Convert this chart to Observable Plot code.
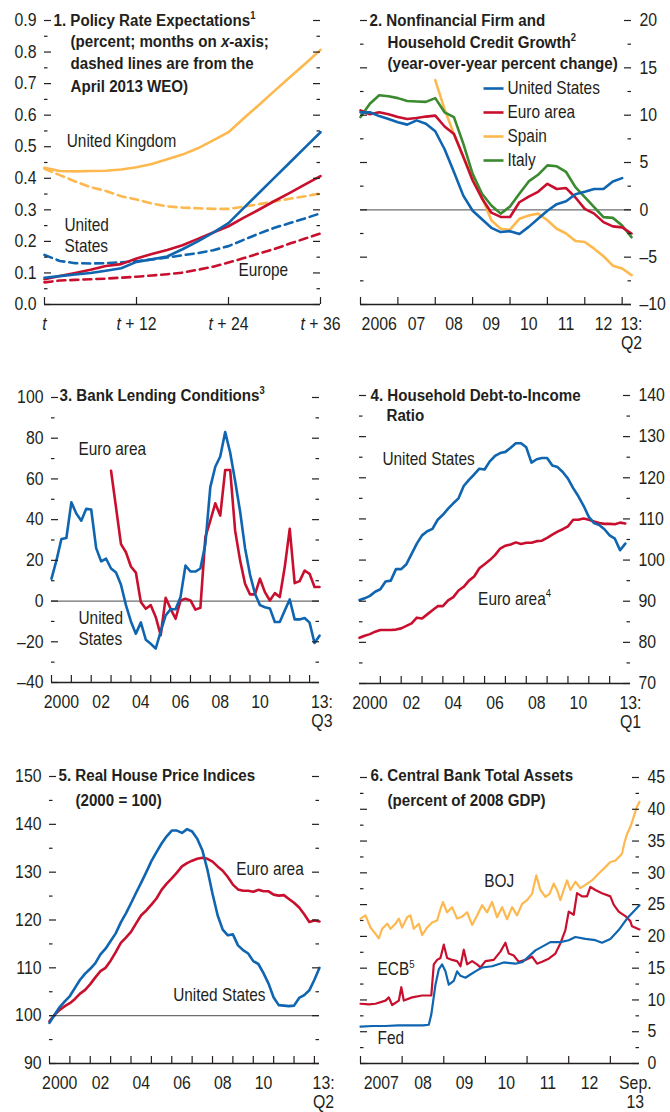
<!DOCTYPE html>
<html>
<head>
<meta charset="utf-8">
<script src="https://cdn.jsdelivr.net/npm/d3@7"></script>
<script src="https://cdn.jsdelivr.net/npm/@observablehq/plot@0.6"></script>
<style>
  html, body { margin: 0; padding: 0; background: #fff; }
  #page { position: relative; width: 670px; height: 1112px; overflow: hidden; }
  .panel { position: absolute; }
  .panel svg { overflow: visible; display: block; }
</style>
</head>
<body>
<div id="page"></div>
<script>
// ---------------- DATA ----------------
// Panel 1: Policy rate expectations (months ahead)
const p1Months = [0, 2, 4, 6, 8, 10, 12, 14, 16, 18, 20, 22, 24, 26, 28, 30, 32, 34, 36];
const p1UK     = [0.433, 0.423, 0.422, 0.423, 0.424, 0.428, 0.435, 0.445, 0.46, 0.475, 0.495, 0.52, 0.546, 0.59, 0.633, 0.677, 0.72, 0.763, 0.807];
const p1UKWEO  = [0.43, 0.41, 0.39, 0.372, 0.36, 0.343, 0.333, 0.32, 0.311, 0.307, 0.305, 0.303, 0.303, 0.31, 0.318, 0.327, 0.335, 0.343, 0.352];
const p1US     = [0.085, 0.09, 0.095, 0.1, 0.107, 0.115, 0.135, 0.143, 0.152, 0.175, 0.2, 0.228, 0.258, 0.306, 0.354, 0.402, 0.45, 0.498, 0.546];
const p1USWEO  = [0.157, 0.138, 0.131, 0.13, 0.131, 0.134, 0.137, 0.143, 0.149, 0.156, 0.163, 0.172, 0.185, 0.205, 0.225, 0.243, 0.258, 0.273, 0.289];
const p1EU     = [0.08, 0.09, 0.1, 0.11, 0.122, 0.128, 0.146, 0.16, 0.173, 0.188, 0.208, 0.228, 0.248, 0.275, 0.301, 0.328, 0.354, 0.381, 0.407];
const p1EUWEO  = [0.07, 0.076, 0.078, 0.08, 0.082, 0.085, 0.088, 0.092, 0.096, 0.101, 0.11, 0.12, 0.133, 0.147, 0.162, 0.176, 0.193, 0.209, 0.225];
const p1YTicks = [0, 0.1, 0.2, 0.3, 0.4, 0.5, 0.6, 0.7, 0.8, 0.9];
const p1YMinor = [0.05, 0.15, 0.25, 0.35, 0.45, 0.55, 0.65, 0.75, 0.85];
const p1XTicks = [0, 12, 24, 36];
const p1XLabels = ["*t*", "*t* + 12", "*t* + 24", "*t* + 36"];

// Panel 2: credit growth, quarterly from 2006:Q1
const p2Start = 2006;
const p2US    = [10.3, 10.3, 9.9, 9.6, 9.25, 9.0, 9.45, 9.1, 8.3, 6.4, 4.0, 1.5, -0.1, -1.0, -1.9, -2.35, -2.25, -2.55, -1.8, -0.95, -0.1, 0.6, 0.9, 1.65, 1.9, 2.2, 2.2, 3.0, 3.35];
const p2Euro  = [10.5, 10.1, 10.3, 10.1, 9.8, 9.6, 9.7, 9.85, 9.95, 8.8, 8.0, 5.6, 3.1, 1.2, -0.3, -0.75, -0.75, 0.8, 1.4, 1.9, 2.75, 2.2, 2.3, 1.3, 0.1, -0.4, -1.3, -1.75, -1.85, -2.5];
const p2SpainStart = 2008;
const p2Spain = [13.7, 10.6, 8.0, 5.6, 3.45, 1.3, -1.1, -2.0, -2.1, -0.95, -0.6, -0.4, -1.1, -2.0, -2.5, -3.3, -3.4, -4.1, -4.9, -5.9, -6.2, -6.9];
const p2Italy = [9.8, 11.2, 12.1, 12.0, 11.8, 11.5, 11.45, 11.4, 11.8, 10.3, 9.8, 7.0, 3.8, 1.7, 0.46, -0.4, 0.35, 1.7, 3.0, 3.7, 4.7, 4.6, 4.0, 2.4, 1.34, 0.28, -0.77, -0.85, -1.65, -2.9];
const p2Names = ["United States", "Euro area", "Spain", "Italy"];
const p2YTicks = [-10, -5, 0, 5, 10, 15, 20];
const p2YMinor = [-7.5, -2.5, 2.5, 7.5, 12.5, 17.5];
const p2XTicks = [2006, 2007, 2008, 2009, 2010, 2011, 2012, 2013];
const p2XLabelPos = [2006.5, 2007.5, 2008.5, 2009.5, 2010.5, 2011.5, 2012.5, 2013.25];
const p2XLabels = ["2006", "07", "08", "09", "10", "11", "12", "13:\nQ2"];

// Panel 3: bank lending conditions, quarterly from 2000:Q1
const p3Start = 2000;
const p3US = [11, 20, 30.5, 31, 48.5, 43, 39.5, 45.3, 45, 26, 19.5, 20.8, 16, 14, 8, -2, -10, -16, -10.5, -19, -21, -23.3, -15, -7, -4, -4, 2, 17.5, 14.5, 14.5, 16, 28, 56, 66, 71, 83, 73, 59, 44, 26, 13, 3.6, -2, -3, -3.6, -10.3, -10.3, -4.6, 0.8, -9, -9, -8.3, -10.6, -20.6, -17];
const p3EuroStart = 2003;
const p3Euro = [64, 46, 28, 24, 17, 14, -0.5, -3.8, -2, -7.8, -16.8, 1.6, -3.8, -8.7, 0.3, 1.1, 0.3, -4.2, -3.3, 31.4, 39.5, 48, 42, 64.4, 64.4, 34.6, 20, 8.5, 3.3, 3.3, 11, 4.4, 0.3, 3.9, 2, 16.7, 35.5, 8.8, 9.8, 15, 13.4, 6.9, 6.9];
const p3YTicks = [-40, -20, 0, 20, 40, 60, 80, 100];
const p3YMinor = [-30, -10, 10, 30, 50, 70, 90];
const p3XTicks = [2000, 2001, 2002, 2003, 2004, 2005, 2006, 2007, 2008, 2009, 2010, 2011, 2012, 2013];
const p3XLabelPos = [2000.5, 2002.5, 2004.5, 2006.5, 2008.5, 2010.5, 2013.62];
const p3XLabels = ["2000", "02", "04", "06", "08", "10", "13:\nQ3"];

// Panel 4: household debt-to-income, quarterly from 2000:Q1
const p4Start = 2000;
const p4US = [90.3, 90.7, 91.3, 92.3, 92.9, 94.8, 95, 97.8, 97.8, 99, 101.5, 104, 106, 107, 107.6, 109.8, 111, 112.5, 113.8, 115, 118, 119.5, 120.8, 122.2, 122, 124, 125.3, 126, 126.3, 127.3, 128.4, 128.4, 127.4, 123.7, 124.5, 124.8, 124.8, 123, 122.6, 121.4, 119.8, 117.5, 115.5, 113.2, 110.5, 109, 108.5, 107.5, 106, 105.2, 102.4, 104];
const p4Euro = [81.1, 81.6, 82, 82.6, 83, 83, 83, 83.1, 83.4, 84, 84.6, 86, 85.8, 86.8, 87.8, 88.8, 88.8, 90.2, 91, 92.6, 93.5, 95, 96, 98, 99, 100, 101.2, 102.8, 103.5, 103.8, 104.3, 103.9, 104.2, 104.2, 104.6, 104.7, 105.4, 106.2, 106.9, 107.5, 108.2, 109.8, 109.8, 110.1, 109.8, 109.4, 109, 108.8, 108.8, 108.7, 109.1, 108.9];
const p4YTicks = [70, 80, 90, 100, 110, 120, 130, 140];
const p4YMinor = [75, 85, 95, 105, 115, 125, 135];
const p4XTicks = [2001, 2002, 2003, 2004, 2005, 2006, 2007, 2008, 2009, 2010, 2011, 2012];
const p4XLabelPos = [2000.5, 2002.5, 2004.5, 2006.5, 2008.5, 2010.5, 2013];
const p4XLabels = ["2000", "02", "04", "06", "08", "10", "13:\nQ1"];

// Panel 5: real house prices, quarterly from 2000:Q1
const p5Start = 2000;
const p5US = [98.5, 100.2, 101.8, 103, 104.1, 105.8, 107.5, 108.8, 109.8, 111, 112.8, 114, 115.6, 117.2, 119.5, 121.4, 123.5, 125.7, 127.8, 130, 132.3, 134.2, 136, 137.5, 138.7, 138.7, 138.2, 139, 138.5, 137, 134.6, 130.5, 125.5, 121, 118, 116.8, 117, 114.7, 113.7, 113, 111.4, 110.8, 108.9, 106.7, 103.8, 102.2, 102.1, 102, 102.1, 103.7, 104.3, 105.3, 107.5, 110];
const p5Euro = [98.8, 100.2, 101.2, 102, 102.6, 103.5, 104.6, 105.4, 106.6, 108, 109.3, 110, 111.5, 113.3, 115.2, 116.3, 117.5, 119.3, 121, 122, 123.2, 124.5, 126.3, 127.6, 128.7, 129.9, 131.2, 131.9, 132.4, 132.8, 133, 132.8, 132.2, 131.2, 130.3, 129, 127.4, 126.4, 126.1, 126.1, 125.9, 126.3, 126, 126, 125.3, 125.1, 125.2, 124.4, 123.6, 122.6, 121.2, 119.6, 119.9, 119.7];
const p5YTicks = [90, 100, 110, 120, 130, 140, 150];
const p5YMinor = [95, 105, 115, 125, 135, 145];
const p5XTicks = [2000, 2001, 2002, 2003, 2004, 2005, 2006, 2007, 2008, 2009, 2010, 2011, 2012, 2013];
const p5XLabelPos = [2000.5, 2002.5, 2004.5, 2006.5, 2008.5, 2010.5, 2013.45];
const p5XLabels = ["2000", "02", "04", "06", "08", "10", "13:\nQ2"];

// Panel 6: central bank total assets [year, percent of 2008 GDP]
const p6Fed = [[2007.0, 5.8], [2007.3, 5.9], [2007.6, 5.9], [2007.9, 6.0], [2008.2, 6.0], [2008.5, 6.0], [2008.64, 6.1], [2008.7, 7.7], [2008.8, 12.4], [2008.88, 14.8], [2008.96, 15.6], [2009.04, 14.5], [2009.12, 12.4], [2009.24, 13.0], [2009.32, 14.5], [2009.4, 13.8], [2009.52, 13.5], [2009.64, 14.0], [2009.76, 14.5], [2009.92, 15.1], [2010.16, 15.3], [2010.44, 15.9], [2010.72, 15.7], [2010.9, 16.0], [2011.2, 17.8], [2011.56, 19.1], [2011.8, 19.1], [2012.0, 19.4], [2012.16, 19.9], [2012.4, 19.6], [2012.64, 19.4], [2012.8, 19.0], [2013.0, 19.6], [2013.2, 21.0], [2013.4, 22.8], [2013.7, 24.9]];
const p6ECB = [[2007.0, 9.4], [2007.2, 9.3], [2007.36, 9.4], [2007.6, 9.9], [2007.68, 10.4], [2007.76, 9.2], [2007.92, 9.9], [2007.98, 12.0], [2008.04, 9.9], [2008.24, 10.4], [2008.48, 10.7], [2008.7, 10.7], [2008.76, 15.6], [2008.84, 16.3], [2008.92, 16.6], [2009.0, 18.7], [2009.08, 16.6], [2009.2, 16.3], [2009.32, 16.1], [2009.4, 15.3], [2009.48, 17.9], [2009.56, 15.6], [2009.68, 16.1], [2009.8, 15.6], [2009.88, 15.1], [2010.0, 16.1], [2010.2, 16.3], [2010.36, 17.6], [2010.48, 19.0], [2010.56, 17.3], [2010.68, 17.0], [2010.8, 16.0], [2010.96, 16.3], [2011.12, 16.8], [2011.24, 15.7], [2011.36, 16.0], [2011.52, 16.5], [2011.68, 17.3], [2011.8, 18.9], [2011.92, 21.0], [2012.0, 23.9], [2012.12, 23.4], [2012.2, 26.8], [2012.32, 26.3], [2012.44, 26.3], [2012.52, 27.8], [2012.64, 27.3], [2012.8, 26.8], [2013.0, 26.3], [2013.08, 25.0], [2013.2, 23.9], [2013.36, 23.2], [2013.48, 22.4], [2013.52, 21.6], [2013.7, 21.1]];
const p6BOJ = [[2007.0, 22.8], [2007.12, 23.3], [2007.24, 21.4], [2007.36, 20.4], [2007.44, 19.7], [2007.52, 21.2], [2007.64, 22.0], [2007.72, 21.2], [2007.84, 22.0], [2007.92, 22.8], [2008.0, 21.4], [2008.12, 23.0], [2008.2, 23.3], [2008.28, 21.2], [2008.4, 22.0], [2008.48, 20.2], [2008.6, 21.4], [2008.72, 22.2], [2008.84, 22.5], [2008.92, 24.3], [2008.98, 25.4], [2009.08, 23.8], [2009.2, 24.6], [2009.32, 22.8], [2009.44, 23.1], [2009.56, 23.8], [2009.68, 21.8], [2009.8, 23.3], [2009.92, 24.9], [2010.04, 23.8], [2010.16, 25.4], [2010.28, 23.0], [2010.4, 24.6], [2010.52, 22.7], [2010.64, 24.6], [2010.76, 23.3], [2010.88, 25.1], [2011.0, 25.7], [2011.12, 26.7], [2011.22, 29.6], [2011.32, 27.3], [2011.44, 26.2], [2011.54, 26.7], [2011.64, 28.3], [2011.72, 27.3], [2011.8, 25.7], [2011.88, 27.3], [2011.96, 28.8], [2012.04, 27.3], [2012.16, 28.6], [2012.28, 27.6], [2012.4, 28.1], [2012.56, 28.8], [2012.72, 29.9], [2012.88, 30.9], [2013.0, 31.7], [2013.12, 31.9], [2013.28, 33.0], [2013.34, 34.8], [2013.4, 36.1], [2013.48, 37.2], [2013.56, 38.8], [2013.64, 40.4], [2013.7, 41.2]];
const p6YTicks = [0, 5, 10, 15, 20, 25, 30, 35, 40, 45];
const p6YMinor = [2.5, 7.5, 12.5, 17.5, 22.5, 27.5, 32.5, 37.5, 42.5];
const p6XTicks = [2007, 2008, 2009, 2010, 2011, 2012, 2013];
const p6XLabelPos = [2007.5, 2008.5, 2009.5, 2010.5, 2011.5, 2012.5, 2013.6];
const p6XLabels = ["2007", "08", "09", "10", "11", "12", "Sep.\n13"];

// ---------------- STYLE ----------------
const FONT = '"Liberation Sans", Arial, sans-serif';
const NARROW = 0.88;               // horizontal condensing of all text
const INK = "#231f20", ZERO = "#6d6e71";
const BLUE = "#0f65b0", RED = "#c8102e", ORANGE = "#fdb94f", GREEN = "#3b8a2f";
const LW = 2.6;

const zipX = (xs, ys) => xs.map((x, i) => ({x, y: ys[i]}));
const quarterly = (start, ys) => ys.map((y, i) => ({x: start + i / 4, y}));
const pairs = arr => arr.map(([x, y]) => ({x, y}));
const fmtMinus = d => d < 0 ? "\u2013" + Math.abs(d) : String(d);
const symbolDash = {draw(ctx) { ctx.moveTo(-10, 0); ctx.lineTo(10, 0); }};

function line(data, stroke, extra = {}) {
  return Plot.line(data, {x: "x", y: "y", stroke, strokeWidth: LW, strokeLinejoin: "round", ...extra});
}
function ann(x, y, text, extra = {}) {
  return Plot.text([{x, y, text}], {x: "x", y: "y", text: "text", textAnchor: "start", lineAnchor: "middle", lineHeight: 1.25, fill: INK, fontSize: 17.5, ...extra});
}

function richText(svg) {
  const NS = "http://www.w3.org/2000/svg";
  svg.querySelectorAll("text, tspan").forEach(el => {
    if (el.children.length) return;
    const s = el.textContent;
    if (!/[\^*]/.test(s)) return;
    el.textContent = "";
    const re = /\^(\d)|\*([^*]+)\*/g;
    let last = 0, m;
    while ((m = re.exec(s))) {
      if (m.index > last) el.appendChild(document.createTextNode(s.slice(last, m.index)));
      const ts = document.createElementNS(NS, "tspan");
      if (m[1]) { ts.textContent = m[1]; ts.setAttribute("font-size", "0.62em"); ts.setAttribute("dy", "-0.65em"); }
      else { ts.textContent = m[2]; ts.setAttribute("font-style", "italic"); }
      el.appendChild(ts);
      last = re.lastIndex;
    }
    if (last < s.length) el.appendChild(document.createTextNode(s.slice(last)));
  });
  // condense text horizontally around its anchor point
  svg.querySelectorAll("text").forEach(t => {
    const tr = t.getAttribute("transform");
    if (tr) t.setAttribute("transform", `${tr} scale(${NARROW},1)`);
    else {
      const x = +t.getAttribute("x") || 0, y = +t.getAttribute("y") || 0;
      t.removeAttribute("x"); t.removeAttribute("y");
      t.setAttribute("transform", `translate(${x},${y}) scale(${NARROW},1)`);
    }
  });
}

function panel(cfg) {
  const {left, top, width = 335, height, margin, xDomain, yDomain, yMajor, yMinor, yLabelSide, yFormat,
         xTicks, xLabelPos, xLabels, refLine, marks, titles} = cfg;
  const [mt, mr, mb, ml] = margin;
  const plotW = width - ml - mr, plotH = height - mt - mb;
  const labelOf = new Map(xLabelPos.map((p, i) => [p, xLabels[i]]));
  const svg = Plot.plot({
    width, height, marginTop: mt, marginRight: mr, marginBottom: mb, marginLeft: ml,
    x: {domain: xDomain, label: null},
    y: {domain: yDomain, label: null},
    style: {fontFamily: FONT, fontSize: "18px", color: INK, background: "transparent", overflow: "visible"},
    marks: [
      refLine == null ? null : Plot.ruleY([refLine], {stroke: ZERO, strokeWidth: 1.2}),
      ...marks,
      Plot.ruleY([yDomain[0]], {stroke: INK, strokeWidth: 1.5}),
      Plot.tickX(xTicks, {x: d => d, insetTop: plotH - 7, stroke: INK, strokeWidth: 1.2}),
      Plot.tickY(yMajor, {y: d => d, insetRight: plotW - 7, stroke: INK, strokeWidth: 1.2}),
      Plot.tickY(yMinor, {y: d => d, insetRight: plotW - 3.5, stroke: INK, strokeWidth: 1.2}),
      Plot.tickY(yMajor, {y: d => d, insetLeft: plotW - 7, stroke: INK, strokeWidth: 1.2}),
      Plot.tickY(yMinor, {y: d => d, insetLeft: plotW - 3.5, stroke: INK, strokeWidth: 1.2}),
      Plot.axisY({ticks: yMajor, anchor: yLabelSide, tickSize: 0, tickPadding: 8, tickFormat: yFormat, fill: INK}),
      Plot.axisX({ticks: xLabelPos, anchor: "bottom", tickSize: 0, tickPadding: 11, tickFormat: d => labelOf.get(d), lineHeight: 1.1, fill: INK}),
      ...titles.map(t => Plot.text([t.text], {frameAnchor: "top-left", dx: t.dx, dy: t.dy, text: d => d, textAnchor: "start", lineAnchor: "middle", fontWeight: "bold", fontSize: 17.2, fill: INK}))
    ]
  });
  richText(svg);
  const div = document.createElement("div");
  div.className = "panel";
  div.style.left = left + "px";
  div.style.top = top + "px";
  div.appendChild(svg);
  document.getElementById("page").appendChild(div);
}

// ---------------- PANELS ----------------
panel({
  left: 0, top: 0, height: 370, margin: [20, 15, 66, 44],
  xDomain: [0, 36], yDomain: [0, 0.9], yMajor: p1YTicks, yMinor: p1YMinor, yLabelSide: "left", yFormat: d3.format(".1f"),
  xTicks: p1XTicks, xLabelPos: p1XTicks, xLabels: p1XLabels,
  marks: [
    line(zipX(p1Months, p1UKWEO), ORANGE, {strokeDasharray: "8,5"}),
    line(zipX(p1Months, p1USWEO), BLUE, {strokeDasharray: "8,5"}),
    line(zipX(p1Months, p1EUWEO), RED, {strokeDasharray: "8,5"}),
    line(zipX(p1Months, p1UK), ORANGE),
    line(zipX(p1Months, p1EU), RED),
    line(zipX(p1Months, p1US), BLUE),
    ann(2.9, 0.52, "United Kingdom"),
    ann(2.6, 0.222, "United\nStates"),
    ann(25.3, 0.111, "Europe")
  ],
  titles: [
    {text: "1. Policy Rate Expectations^1", dx: 9, dy: 0},
    {text: "(percent; months on *x*-axis;", dx: 26, dy: 21},
    {text: "dashed lines are from the", dx: 26, dy: 43},
    {text: "April 2013 WEO)", dx: 26, dy: 66}
  ]
});

const p2Colors = [BLUE, RED, ORANGE, GREEN];
panel({
  left: 335, top: 0, height: 370, margin: [20, 39, 66, 25],
  xDomain: [2006, 2013.25], yDomain: [-10, 20], yMajor: p2YTicks, yMinor: p2YMinor, yLabelSide: "right", yFormat: fmtMinus,
  xTicks: p2XTicks, xLabelPos: p2XLabelPos, xLabels: p2XLabels, refLine: 0,
  marks: [
    line(quarterly(p2SpainStart, p2Spain), ORANGE),
    line(quarterly(p2Start, p2Italy), GREEN),
    line(quarterly(p2Start, p2Euro), RED),
    line(quarterly(p2Start, p2US), BLUE),
    ...p2Names.flatMap((name, i) => [
      Plot.dot([name], {frameAnchor: "top-left", dx: 133, dy: 68 + 24 * i, symbol: symbolDash, stroke: p2Colors[i], strokeWidth: LW, fill: "none"}),
      Plot.text([name], {frameAnchor: "top-left", dx: 147, dy: 68 + 24 * i, text: d => d, textAnchor: "start", lineAnchor: "middle", fill: INK, fontSize: 17.5})
    ])
  ],
  titles: [
    {text: "2. Nonfinancial Firm and", dx: 9, dy: 0},
    {text: "Household Credit Growth^2", dx: 27, dy: 22},
    {text: "(year-over-year percent change)", dx: 27, dy: 43}
  ]
});

panel({
  left: 0, top: 370, height: 370, margin: [27, 16, 58, 51],
  xDomain: [2000, 2013.5], yDomain: [-40, 100], yMajor: p3YTicks, yMinor: p3YMinor, yLabelSide: "left", yFormat: fmtMinus,
  xTicks: p3XTicks, xLabelPos: p3XLabelPos, xLabels: p3XLabels, refLine: 0,
  marks: [
    line(quarterly(p3EuroStart, p3Euro), RED),
    line(quarterly(p3Start, p3US), BLUE),
    ann(2001.36, 75, "Euro area"),
    ann(2001.36, -13, "United\nStates")
  ],
  titles: [{text: "3. Bank Lending Conditions^3", dx: 8, dy: -2}]
});

panel({
  left: 335, top: 370, height: 370, margin: [25, 40, 57, 24],
  xDomain: [2000, 2013], yDomain: [70, 140], yMajor: p4YTicks, yMinor: p4YMinor, yLabelSide: "right", yFormat: d => String(d),
  xTicks: p4XTicks, xLabelPos: p4XLabelPos, xLabels: p4XLabels,
  marks: [
    line(quarterly(p4Start, p4Euro), RED),
    line(quarterly(p4Start, p4US), BLUE),
    ann(2001.1, 124.7, "United States"),
    ann(2005.69, 90.9, "Euro area^4")
  ],
  titles: [
    {text: "4. Household Debt-to-Income", dx: 11, dy: 0},
    {text: "Ratio", dx: 27, dy: 20}
  ]
});

panel({
  left: 0, top: 750, height: 362, margin: [26, 16, 49, 49],
  xDomain: [2000, 2013.25], yDomain: [90, 150], yMajor: p5YTicks, yMinor: p5YMinor, yLabelSide: "left", yFormat: d => String(d),
  xTicks: p5XTicks, xLabelPos: p5XLabelPos, xLabels: p5XLabels, refLine: 100,
  marks: [
    line(quarterly(p5Start, p5Euro), RED),
    line(quarterly(p5Start, p5US), BLUE),
    ann(2009.16, 130.8, "Euro area"),
    ann(2006.07, 104.6, "United States")
  ],
  titles: [
    {text: "5. Real House Price Indices", dx: 9, dy: -1},
    {text: "(2000 = 100)", dx: 26, dy: 24}
  ]
});

panel({
  left: 335, top: 750, height: 362, margin: [27, 31, 49, 25],
  xDomain: [2007, 2013.7], yDomain: [0, 45], yMajor: p6YTicks, yMinor: p6YMinor, yLabelSide: "right", yFormat: d => String(d),
  xTicks: p6XTicks, xLabelPos: p6XLabelPos, xLabels: p6XLabels,
  marks: [
    line(pairs(p6BOJ), ORANGE, {strokeWidth: 2.2}),
    line(pairs(p6ECB), RED, {strokeWidth: 2.2}),
    line(pairs(p6Fed), BLUE, {strokeWidth: 2.2}),
    ann(2009.97, 28.8, "BOJ"),
    ann(2007.41, 14.95, "ECB^5"),
    ann(2007.41, 4.1, "Fed")
  ],
  titles: [
    {text: "6. Central Bank Total Assets", dx: 10, dy: -2},
    {text: "(percent of 2008 GDP)", dx: 27, dy: 23}
  ]
});
</script>
</body>
</html>
